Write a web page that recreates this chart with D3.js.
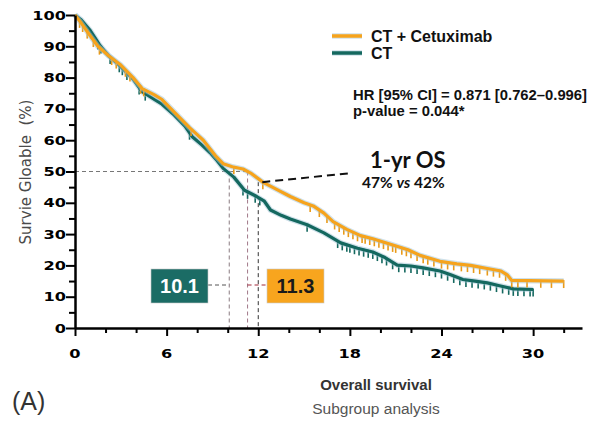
<!DOCTYPE html>
<html>
<head>
<meta charset="utf-8">
<script src="https://cdn.jsdelivr.net/npm/d3@7"></script>
<style>
  body { margin: 0; background: #fff; }
  svg { display: block; }
</style>
</head>
<body>
<div id="graphic"></div>
<script>
// KM curves (months, % alive)
var cetuxTime = [0,0.4,0.9,1.5,2.2,3.0,3.8,4.4,5.2,5.7,6.5,7.5,8.4,9.2,9.7,10.3,11.0,11.5,12.3,13.2,14.1,15.0,15.6,16.3,16.9,17.8,18.7,19.5,20.5,21.8,22.6,23.9,25.0,25.9,27.0,27.9,28.3,28.6,32];
var cetuxSurv = [100,97.5,94,90,87,84,80,76.5,74.5,73,69,64,60,55,52.5,51.5,50.8,49.5,46.6,44.3,42,40,39,36.7,34,31.5,29.5,28.5,27,25,23.2,21.3,20.5,20,19,18.2,17,15.2,15];
var ctTime = [0,0.4,1.0,1.6,2.2,3.0,3.8,4.4,5.2,5.7,6.5,7.2,7.7,8.3,8.85,9.3,9.7,10.4,11.1,11.9,12.4,12.8,13.5,14.1,15.2,16.3,17.4,18.5,19.5,20.3,21.1,22.0,22.8,23.9,24.6,25.4,26.2,27.0,27.8,28.7,30];
var ctSurv = [100,98.5,95,90.5,87,83.5,79.5,75.5,73,71.5,68,64.5,61,58.5,56,53.5,51,48.2,44,42,40.5,37.7,36,34.8,33,30.4,27.2,25.5,24.3,22.5,20.1,19.8,19.2,18.2,17,15.5,15,14.4,13.5,12.5,12.3];

// censoring marks
var cetuxCensor = [0.3,0.5,0.8,1.2,1.6,2.4,2.7,3.3,3.6,4.3,4.5,7.6,10.4,12.3,15.4,16.0,16.5,17.0,17.3,17.6,17.9,18.2,18.5,18.8,19.0,19.3,19.6,19.9,20.2,20.5,20.8,21.0,21.4,21.7,22.0,22.4,22.8,23.1,23.5,24.0,24.4,24.8,25.3,25.7,26.1,26.5,27.0,27.4,27.8,28.2,28.6,29.0,29.6,30.5,31.2,32];
var ctCensor = [1.5,1.7,2.3,2.9,3.1,3.4,4.2,4.6,7.5,11.0,11.3,11.8,12.1,15.2,17.2,17.5,17.8,18.0,18.3,18.6,18.9,19.2,19.5,19.8,20.1,20.4,20.8,21.2,21.6,22.0,22.4,22.8,23.2,23.6,24.0,24.4,24.8,25.2,25.6,26.0,26.4,26.8,27.2,27.6,28.0,28.4,28.7,29.0,29.4,29.8,30.0];

var xTicks = d3.range(0, 33, 2);
var xLabels = [0, 6, 12, 18, 24, 30];
var yTicks = d3.range(0, 101, 5);
var yLabels = d3.range(0, 101, 10);

var medianCT = 10.1, medianCetux = 11.3, landmark = 12;

var W = 592, H = 421;
var orange = "#f6a31c", teal = "#14685f";

var svg = d3.select("#graphic").append("svg")
  .attr("width", W).attr("height", H);

var x = d3.scaleLinear().domain([0, 33.2]).range([75, 582]);
var y = d3.scaleLinear().domain([0, 100]).range([328, 15]);

// reference dashes
var g = svg.append("g").attr("fill", "none").attr("stroke-width", 1);
g.append("line").attr("x1", x(0)).attr("x2", x(medianCetux)).attr("y1", y(50)).attr("y2", y(50))
  .attr("stroke", "#777").attr("stroke-dasharray", "4,3");
g.append("line").attr("x1", x(medianCT)).attr("x2", x(medianCT)).attr("y1", y(50)).attr("y2", y(0))
  .attr("stroke", "#8a7a80").attr("stroke-dasharray", "4,3");
g.append("line").attr("x1", x(medianCetux)).attr("x2", x(medianCetux)).attr("y1", y(50)).attr("y2", y(0))
  .attr("stroke", "#a07888").attr("stroke-dasharray", "4,3");
g.append("line").attr("x1", x(landmark)).attr("x2", x(landmark)).attr("y1", y(46.6)).attr("y2", y(0))
  .attr("stroke", "#333").attr("stroke-dasharray", "4,3");

// curves
var line = d3.line().x(function(d){ return x(d[0]); }).y(function(d){ return y(d[1]); });
function curve(ts, ss, col) {
  var pts = ts.map(function(t, i){ return [t, ss[i]]; });
  svg.append("path").datum(pts).attr("d", line).attr("fill", "none")
    .attr("stroke", "#9fc4d6").attr("stroke-width", 5.5).attr("stroke-opacity", 0.5);
  svg.append("path").datum(pts).attr("d", line).attr("fill", "none")
    .attr("stroke", col).attr("stroke-width", 3.2).attr("stroke-linejoin", "round");
}
function censor(cs, ts, ss, col) {
  var interp = function(t){ return d3.scaleLinear().domain(ts).range(ss)(t); };
  svg.append("g").selectAll("line").data(cs).join("line")
    .attr("x1", function(d){ return x(d); }).attr("x2", function(d){ return x(d); })
    .attr("y1", function(d){ return y(interp(d)) - 1; })
    .attr("y2", function(d){ return y(interp(d)) + 7; })
    .attr("stroke", col).attr("stroke-width", 1.6);
}
censor(ctCensor, ctTime, ctSurv, teal);
curve(ctTime, ctSurv, teal);
censor(cetuxCensor, cetuxTime, cetuxSurv, "#e99a18");
curve(cetuxTime, cetuxSurv, orange);

// axes
var xAxis = svg.append("g").attr("transform", "translate(0," + y(0) + ")")
  .call(d3.axisBottom(x).tickValues(xTicks).tickFormat("")
    .tickSize(5).tickSizeOuter(0));
xAxis.selectAll(".tick line").filter(function(d){ return d % 6 === 0; }).attr("y2", 8);
xAxis.selectAll(".tick line").attr("stroke", "#000").attr("stroke-width", 2);
xAxis.select(".domain").attr("stroke", "#000").attr("stroke-width", 2.5);
// tick labels: wide bold digits (source image is stretched horizontally)
svg.append("g").selectAll("text").data(xLabels).join("text")
  .attr("transform", function(d){ return "translate(" + x(d) + ",358) scale(1.35,1)"; })
  .attr("text-anchor", "middle").attr("font-family", "DejaVu Sans").attr("font-weight", "bold")
  .attr("font-size", 12).text(function(d){ return d; });

var yAxis = svg.append("g").attr("transform", "translate(" + x(0) + ",0)")
  .call(d3.axisLeft(y).tickValues(yTicks).tickFormat("").tickSize(6).tickSizeOuter(0));
yAxis.selectAll(".tick line").filter(function(d){ return d % 10 === 0; }).attr("x2", -9);
yAxis.selectAll(".tick line").attr("stroke", "#000").attr("stroke-width", 2);
yAxis.select(".domain").attr("stroke", "#000").attr("stroke-width", 2.5);
svg.append("g").selectAll("text").data(yLabels).join("text")
  .attr("transform", function(d){ return "translate(66," + (y(d) + 4.5) + ") scale(1.35,1)"; })
  .attr("text-anchor", "end").attr("font-family", "DejaVu Sans").attr("font-weight", "bold")
  .attr("font-size", 12).text(function(d){ return d; });

svg.append("text").attr("transform", "translate(31,172) rotate(-90)")
  .attr("text-anchor", "middle").attr("font-family", "DejaVu Sans").attr("font-size", 15)
  .attr("fill", "#4a4a4a").attr("xml:space", "preserve").text("Survie Gloable  (%)");

// legend
var legend = [["CT + Cetuximab", orange], ["CT", teal]];
legend.forEach(function(d, i){
  var ly = 36 + i * 17;
  svg.append("line").attr("x1", 332).attr("x2", 362).attr("y1", ly).attr("y2", ly)
    .attr("stroke", "#9fc4d6").attr("stroke-width", 5.5).attr("stroke-opacity", 0.5);
  svg.append("line").attr("x1", 332).attr("x2", 362).attr("y1", ly).attr("y2", ly)
    .attr("stroke", d[1]).attr("stroke-width", 3.5);
  svg.append("text").attr("x", 371).attr("y", ly + 6)
    .attr("font-family", "Liberation Sans, Arial").attr("font-weight", "bold").attr("font-size", 16)
    .attr("fill", "#111").text(d[0]);
});

var stats = ["HR [95% CI] = 0.871 [0.762\u20130.996]", "p-value = 0.044*"];
svg.append("g").selectAll("text").data(stats).join("text")
  .attr("x", 353).attr("y", function(d, i){ return 100 + i * 16; })
  .attr("font-family", "Liberation Sans, Arial").attr("font-weight", "bold").attr("font-size", 14.8)
  .attr("fill", "#111").text(function(d){ return d; });

// 1-yr OS callout
svg.append("line").attr("x1", x(landmark) + 4).attr("y1", y(46.6)).attr("x2", 352).attr("y2", 173)
  .attr("stroke", "#111").attr("stroke-width", 2).attr("stroke-dasharray", "8,5");
svg.append("text").attr("x", 370).attr("y", 168)
  .attr("font-family", "Lato").attr("font-weight", "bold").attr("font-size", 22)
  .attr("fill", "#111").text("1-yr OS");
var os = svg.append("text").attr("x", 362).attr("y", 188)
  .attr("font-family", "Lato").attr("font-weight", "bold").attr("font-size", 15.5)
  .attr("fill", "#111");
os.append("tspan").text("47% ");
os.append("tspan").attr("font-style", "italic").text("vs");
os.append("tspan").text(" 42%");

// median boxes
var boxes = [
  {v: medianCT, x0: 151, fill: "#1b6c65", txt: "#fff", from: x(medianCT), dash: "#555", side: "left"},
  {v: medianCetux, x0: 267, fill: "#f8a51e", txt: "#1a1a1a", from: x(medianCetux), dash: "#a02838", side: "right"}
];
boxes.forEach(function(b){
  var lx1 = b.side === "left" ? b.x0 + 57 : b.from;
  var lx2 = b.side === "left" ? b.from : b.x0;
  svg.append("line").attr("x1", lx1).attr("x2", lx2).attr("y1", 285).attr("y2", 285)
    .attr("stroke", b.dash).attr("stroke-width", 1).attr("stroke-dasharray", "4,3");
  svg.append("rect").attr("x", b.x0).attr("y", 269).attr("width", 57).attr("height", 34)
    .attr("fill", b.fill).attr("stroke", "#c8c8c8").attr("stroke-width", 0.6);
  svg.append("text").attr("x", b.x0 + 28.5).attr("y", 293).attr("text-anchor", "middle")
    .attr("font-family", "Liberation Sans, Arial").attr("font-weight", "bold").attr("font-size", 20)
    .attr("fill", b.txt).text(b.v.toFixed(1));
});

// bottom captions
svg.append("text").attr("x", 376).attr("y", 390).attr("text-anchor", "middle")
  .attr("font-family", "Liberation Sans, Arial").attr("font-weight", "bold").attr("font-size", 15)
  .attr("fill", "#333").text("Overall survival");
svg.append("text").attr("x", 376).attr("y", 414).attr("text-anchor", "middle")
  .attr("font-family", "Liberation Sans, Arial").attr("font-size", 15.5)
  .attr("fill", "#555").text("Subgroup analysis");
svg.append("text").attr("x", 12).attr("y", 410)
  .attr("font-family", "Liberation Sans, Arial").attr("font-size", 25)
  .attr("fill", "#333").text("(A)");
</script>
</body>
</html>
